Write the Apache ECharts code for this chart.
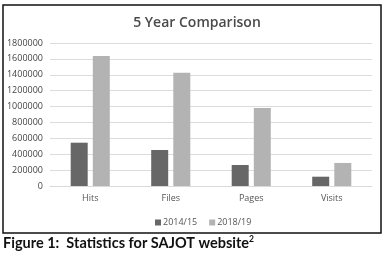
<!DOCTYPE html>
<html><head><meta charset="utf-8">
<script src="https://cdn.jsdelivr.net/npm/echarts@6/dist/echarts.min.js"></script>
<style>html,body{margin:0;padding:0;background:#fff}#c{width:385px;height:261px}</style>
</head><body><div id="c"></div>
<script>
const categories = ['Hits', 'Files', 'Pages', 'Visits'];
const series2014 = [545000, 453000, 264000, 117000];
const series2018 = [1636000, 1426000, 982000, 290000];
const yTicks = [0, 200000, 400000, 600000, 800000, 1000000, 1200000, 1400000, 1600000, 1800000];
const seriesNames = ['2014/15', '2018/19'];

const chart = echarts.init(document.getElementById('c'));
const txt = '#555';
chart.setOption({
  animation: false,
  title: {
    text: '5 Year Comparison', left: 192, top: 11, textAlign: 'center',
    textStyle: { fontFamily: 'Open Sans', fontSize: 14, fontWeight: 600, color: '#4a4a4a' }
  },
  legend: {
    data: seriesNames, left: 150, top: 213, itemWidth: 6, itemHeight: 6, itemGap: 12,
    icon: 'rect', textStyle: { fontFamily: 'Open Sans', fontSize: 9, color: txt, padding: [0,0,0,-3] }
  },
  grid: { left: 50, right: 13, top: 43, bottom: 75 },
  xAxis: {
    type: 'category', data: categories,
    axisLine: { show: true, lineStyle: { color: '#d9d9d9' } },
    axisTick: { show: false },
    axisLabel: { fontFamily: 'Open Sans', fontSize: 9, color: txt, margin: 8 }
  },
  yAxis: {
    type: 'value', min: yTicks[0], max: yTicks[yTicks.length - 1], interval: 200000,
    axisLine: { show: false }, axisTick: { show: false },
    axisLabel: { fontFamily: 'Open Sans', fontSize: 9, color: '#444', margin: 7, formatter: v => String(v) },
    splitLine: { lineStyle: { color: '#dcdcdc' } }
  },
  series: [
    { name: seriesNames[0], type: 'bar', data: series2014, barWidth: 17, barGap: '30%',
      itemStyle: { color: '#676767' } },
    { name: seriesNames[1], type: 'bar', data: series2018, barWidth: 17,
      itemStyle: { color: '#b3b3b3' } }
  ],
  graphic: [
    { type: 'rect', shape: { x: 3, y: 5, width: 378, height: 228 },
      style: { fill: 'none', stroke: '#111', lineWidth: 1.5 }, silent: true },
    { type: 'text', left: 3, top: 235,
      style: {
        text: '{a|Figure 1:  Statistics for SAJOT website}{s|2}',
        rich: {
          a: { fontFamily: 'Lato', fontWeight: 'bold', fontSize: 14.5, fill: '#111' },
          s: { fontFamily: 'Lato', fontWeight: 'bold', fontSize: 8.5, fill: '#111', verticalAlign: 'top', padding: [0,0,7,0] }
        }
      } }
  ]
});
</script></body></html>
